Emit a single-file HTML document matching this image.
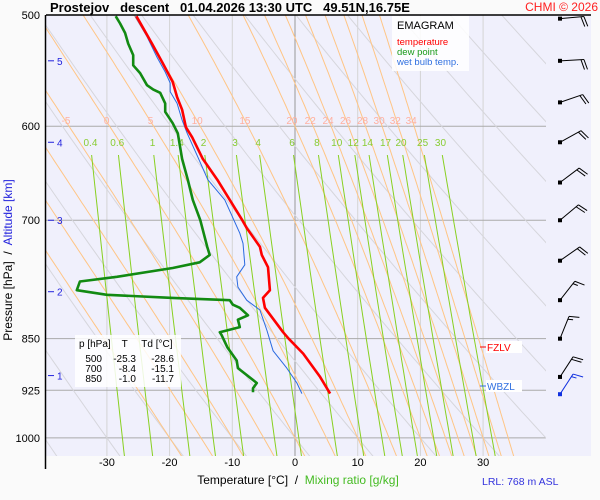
<!DOCTYPE html>
<html><head><meta charset="utf-8"><style>
body{margin:0;background:#fafafa;}
svg{display:block;font-family:"Liberation Sans",sans-serif;}
</style></head><body>
<svg id="chart" width="600" height="500" viewBox="0 0 600 500">
<rect x="0" y="0" width="600" height="500" fill="#fafafa"/>
<rect x="46" y="15" width="545" height="441" fill="#f0f0fc"/>
<defs><clipPath id="clip"><rect x="46" y="15" width="500" height="441"/></clipPath>
<clipPath id="clipm"><rect x="46" y="155" width="500" height="301"/></clipPath></defs>
<g id="grid"></g>
<g id="dry" clip-path="url(#clip)"></g>
<g id="moist" clip-path="url(#clip)"></g>
<g id="mix" clip-path="url(#clipm)"></g>
<g id="labels"></g>
<g id="series" clip-path="url(#clip)"></g>
<g id="winds"></g>
<g id="axes"></g>
<line x1="46" y1="15" x2="591" y2="15" stroke="#000" stroke-width="1.5"/>
<line x1="45.5" y1="15" x2="45.5" y2="469" stroke="#000" stroke-width="1.5"/>
<text x="50" y="12" font-size="13" font-weight="bold" style="white-space:pre">Prostejov   descent   01.04.2026 13:30 UTC   49.51N,16.75E</text>
<text x="598" y="11" font-size="12" fill="#ff2020" text-anchor="end">CHMI © 2026</text>
<g>
<rect x="392" y="16" width="77" height="55" fill="#ffffff" fill-opacity="0.85"/>
<text x="397" y="29" font-size="11">EMAGRAM</text>
<text x="397" y="45" font-size="9.5" fill="#ff0000">temperature</text>
<text x="397" y="55" font-size="9.5" fill="#1a9a1a">dew point</text>
<text x="397" y="65" font-size="9.5" fill="#3070e0">wet bulb temp.</text>
</g>
<g>
<rect x="75" y="335" width="106" height="52" fill="#ffffff" fill-opacity="0.85"/>
<text x="79" y="347" font-size="10" style="white-space:pre">p [hPa]    T     Td [°C]</text>
<text font-size="10" text-anchor="end"><tspan x="102" y="362">500</tspan><tspan x="136" y="362">-25.3</tspan><tspan x="174" y="362">-28.6</tspan></text>
<text font-size="10" text-anchor="end"><tspan x="102" y="372">700</tspan><tspan x="136" y="372">-8.4</tspan><tspan x="174" y="372">-15.1</tspan></text>
<text font-size="10" text-anchor="end"><tspan x="102" y="382">850</tspan><tspan x="136" y="382">-1.0</tspan><tspan x="174" y="382">-11.7</tspan></text>
</g>
<g>
<rect x="486" y="341" width="36" height="12" fill="#fff"/>
<line x1="480" y1="347" x2="486" y2="347" stroke="#ff0000"/>
<text x="487" y="351" font-size="10" fill="#ff0000">FZLV</text>
</g>
<g>
<rect x="486" y="380" width="36" height="12" fill="#fff"/>
<line x1="480" y1="386" x2="486" y2="386" stroke="#3070e0"/>
<text x="487" y="390" font-size="10" fill="#3070e0">WBZL</text>
</g>
<text x="298" y="484" font-size="12" text-anchor="middle" style="white-space:pre"><tspan fill="#000">Temperature [°C]  /  </tspan><tspan fill="#44bb22">Mixing ratio [g/kg]</tspan></text>
<text x="482" y="485" font-size="10.5" fill="#3333dd">LRL: 768 m ASL</text>
<text transform="translate(12,260) rotate(-90)" font-size="12" text-anchor="middle" style="white-space:pre"><tspan fill="#000">Pressure [hPa]  /  </tspan><tspan fill="#2222dd">Altitude [km]</tspan></text>
</svg>
<script>
// ---- data ----
const tempP = [501,524,541,558,572,584,601,611,633,655,700,709,731,741,756,785,795,808,841,850,871,905,930];
const tempT = [-25.3,-22.8,-21.1,-19.5,-18.8,-18.0,-17.4,-16.4,-14.7,-12.4,-8.4,-7.7,-5.6,-5.3,-4.3,-4.0,-5.1,-4.8,-1.9,-1.0,1.3,4.0,5.6];
const dewP = [501,507,515,524,534,543,550,561,565,568,578,586,597,607,633,655,677,700,731,741,750,757,768,774,785,791,795,798,804,808,818,824,834,841,845,862,881,892,914,922,928];
const dewT = [-28.6,-27.9,-27.1,-26.6,-25.8,-25.8,-24.7,-23.6,-22.6,-21.5,-20.7,-20.7,-19.5,-18.7,-18.0,-17.1,-16.3,-15.1,-14.0,-13.6,-15.2,-19.5,-28.4,-34.3,-34.8,-30.0,-19.5,-10.4,-9.9,-8.8,-7.5,-9.1,-8.8,-12.0,-11.7,-10.8,-9.3,-9.1,-6.1,-6.7,-6.7];
const wbP = [501,518,536,549,559,567,578,594,607,631,655,677,715,727,753,768,781,798,811,838,867,892,914,930];
const wbT = [-25.5,-23.6,-22.0,-20.7,-19.9,-19.9,-18.8,-18.0,-17.2,-15.5,-13.9,-11.2,-8.8,-8.3,-8.0,-9.3,-9.1,-7.7,-5.6,-4.5,-3.5,-1.3,0.3,1.1];
const windP = [503,539,577,616,658,700,748,798,850,905];
const windDir = [85,87,71,61,53,50,55,38,22,33];
const windSpd = [20,20,20,20,20,20,20,15,15,20];
const surfWindP = [931];
const surfWindDir = [33];
const surfWindSpd = [15];
const isobars = [500,600,700,850,925,1000];
const tempTicks = [-30,-20,-10,0,10,20,30];
const altKm = [5,4,3,2,1];
const altP = [539,616,700,787,903];
const mixRatios = [0.4,0.6,1,1.4,2,3,4,6,8,10,12,14,17,20,25,30];
const dryTheta = [-40,-30,-20,-10,0,10,20,30,40,50,60,70,80,90,100,110];
const thetaW = [-20,-15,-10,-5,0,5,10,15,20,22,24,26,28,30,32,34];
const thetaWLabels = [-5,0,5,10,15,20,22,24,26,28,30,32,34];

// ---- scales ----
const xS = t => 295 + 6.27 * t;
const yS = p => 15 + 610 * Math.log(p / 500);
const NS = "http://www.w3.org/2000/svg";
function mk(tag, attrs, parent){const e=document.createElementNS(NS,tag);for(const k in attrs)e.setAttribute(k,attrs[k]);parent.appendChild(e);return e;}
const g = id => document.getElementById(id);

// grid
tempTicks.forEach(t=>{
  const l=mk('line',{x1:xS(t),x2:xS(t),y1:15,y2:456,stroke:t===0?'#999':'#d4d4d4','stroke-width':1},g('grid'));
  
  
  const tx=mk('text',{x:xS(t),y:466,'font-size':11,'text-anchor':'middle'},g('axes'));
  tx.textContent=t;
  
  
});
isobars.forEach(p=>{
  const l=mk('line',{x1:46,x2:546,y1:yS(p),y2:yS(p),stroke:'#aaa','stroke-width':1},g('grid'));
  
  
  const tx=mk('text',{x:40,y:yS(p)+4,'font-size':11,'text-anchor':'end'},g('axes'));
  tx.textContent=p;
  
  
});
altKm.forEach((k,i)=>{
  const y=yS(altP[i]);
  const l=mk('line',{x1:48,x2:54,y1:y,y2:y,stroke:'#2222dd'},g('axes'));
  
  
  const tx=mk('text',{x:57,y:y+4,'font-size':10,fill:'#2222dd'},g('axes'));
  tx.textContent=k;
  
  
});

// dry adiabats (gray)
dryTheta.forEach(th=>{
  const pts=[];
  for(let p=490;p<=1040;p+=10){const T=(th+273.15)*Math.pow(p/1000,0.2857)-273.15;pts.push(xS(T).toFixed(1)+','+yS(p).toFixed(1));}
  const pl=mk('polyline',{points:pts.join(' '),fill:'none',stroke:'#d6d6dc','stroke-width':1},g('dry'));
  
  
});
// moist adiabats (orange)
function es(T){return 6.112*Math.exp(17.67*T/(T+243.5));}
function dTdp(p,T){const TK=T+273.15,e=es(T),rs=0.622*e/(p-e),Lv=2.5e6,Rd=287,cp=1005;
  return (Rd*TK+Lv*rs)/(p*(cp+Lv*Lv*rs*0.622/(Rd*TK*TK)));}
function moist(tw){
  const up=[],dn=[];let T=tw;
  for(let p=1000;p>=480;p-=5){up.push([p,T]);T-=dTdp(p,T)*5;}
  T=tw;for(let p=1000;p<=1040;p+=5){dn.push([p,T]);T+=dTdp(p,T)*5;}
  return up.reverse().concat(dn.slice(1));
}
thetaW.forEach(tw=>{
  const arr=moist(tw);
  const pl=mk('polyline',{points:arr.map(a=>xS(a[1]).toFixed(1)+','+yS(a[0]).toFixed(1)).join(' '),fill:'none',stroke:'#ffc585','stroke-width':1},g('moist'));
  
  
});
thetaWLabels.forEach(tw=>{
  const at=moist(tw).find(a=>a[0]>=600);
  const tx=mk('text',{x:xS(at[1])-3,y:124,'font-size':10,fill:'#ffb0a0','text-anchor':'middle'},g('labels'));
  tx.textContent=tw;
  
  
});
// mixing ratio lines
function mixT(w,p){const e=w*p/(622+w),L=Math.log(e/6.112);return 243.5*L/(17.67-L);}
mixRatios.forEach(w=>{
  const pts=[];
  for(let p=600;p<=1040;p+=20)pts.push(xS(mixT(w,p)).toFixed(1)+','+yS(p).toFixed(1));
  const pl=mk('polyline',{points:pts.join(' '),fill:'none',stroke:'#88d020','stroke-width':1},g('mix'));
  
  
  const tx=mk('text',{x:xS(mixT(w,618)),y:146,'font-size':10,fill:'#88cc33','text-anchor':'middle'},g('labels'));
  tx.textContent=w;
  
  
});

// profiles
function profile(P,T,color,w,name){
  const pl=mk('polyline',{points:P.map((p,i)=>xS(T[i]).toFixed(1)+','+yS(p).toFixed(1)).join(' '),fill:'none',stroke:color,'stroke-width':w,'stroke-linejoin':'round'},g('series'));
  
  
}
profile(wbP,wbT,'#2a6ae0',1,'wet-bulb-line');
profile(dewP,dewT,'#128a12',2.6,'dew-point-line');
profile(tempP,tempT,'#ff0000',2.6,'temperature-line');

// wind barbs
function barb(p,dir,spd,color,name){
  const x0=560,y0=yS(p),L=24,r=dir*Math.PI/180;
  const ux=Math.sin(r),uy=-Math.cos(r);
  const tx=x0+ux*L,ty=y0+uy*L;
  const grp=mk('g',{},g('winds'));
  
  
  mk('line',{x1:x0,y1:y0,x2:tx,y2:ty,stroke:color,'stroke-width':1},grp);
  mk('rect',{x:x0-2,y:y0-2,width:4,height:4,fill:color},grp);
  let n=Math.floor(spd/10),half=(spd%10)>=5,pos=0;
  const px=-uy,py=ux;
  for(let i=0;i<n;i++){const bx=tx-ux*pos,by=ty-uy*pos;
    mk('line',{x1:bx,y1:by,x2:bx+px*10+ux*3,y2:by+py*10+uy*3,stroke:color},grp);pos+=3;}
  if(half){const bx=tx-ux*pos,by=ty-uy*pos;mk('line',{x1:bx,y1:by,x2:bx+px*5+ux*1.5,y2:by+py*5+uy*1.5,stroke:color},grp);}
}
windP.forEach((p,i)=>barb(p,windDir[i],windSpd[i],'#000','wind-barb-'+p));
surfWindP.forEach((p,i)=>barb(p,surfWindDir[i],surfWindSpd[i],'#1030e0','surface-wind-barb'));
</script>
</body></html>
